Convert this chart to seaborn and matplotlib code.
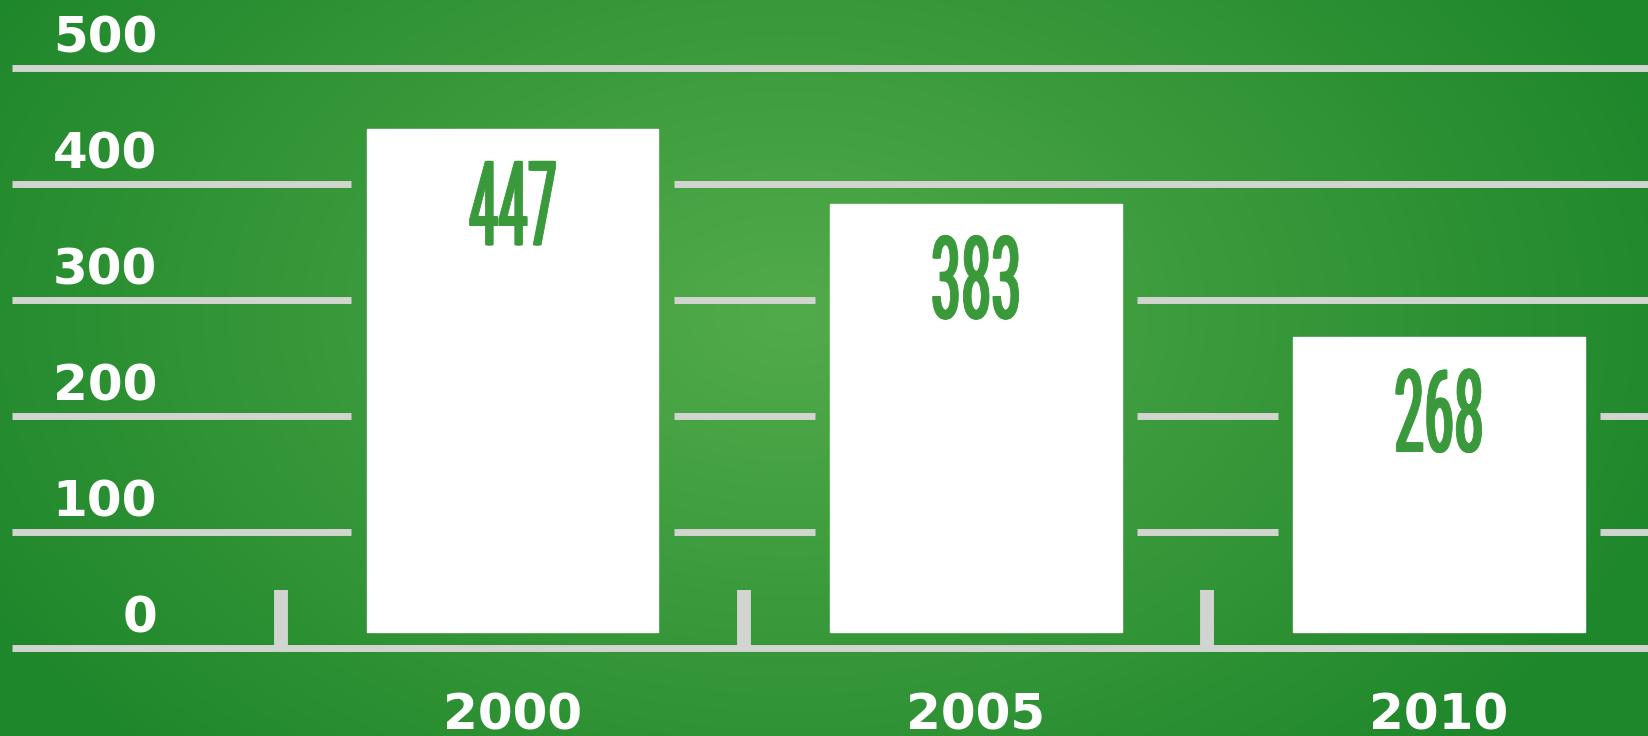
import numpy as np
import pandas as pd
import seaborn as sns
import matplotlib.pyplot as plt
import matplotlib.font_manager as fm
from matplotlib.textpath import TextPath
from matplotlib.patches import PathPatch
from matplotlib.font_manager import FontProperties
from matplotlib.transforms import Affine2D

# data
years = ['2000', '2005', '2010']
values = [447, 383, 268]
y_levels = [0, 100, 200, 300, 400, 500]

sns.set_theme(style='white')
plt.rcParams['font.family'] = ['DejaVu Sans']

GRID = '#d2d4d0'
GREEN_TXT = '#3a9a3b'


def condensed_font():
    # a narrow regular face if one is installed, else plain DejaVu
    files = [f.fname for f in fm.fontManager.ttflist]
    prefs = ['robotocondensed-regular', 'notosans-condensed.ttf',
             'notosans-extracondensed.ttf', 'liberationsansnarrow-regular',
             'dejavusanscondensed.ttf']
    for p in prefs:
        for f in files:
            name = f.lower().replace(' ', '').replace('_', '')
            if name.endswith(p) or ('/' + p) in name:
                return FontProperties(fname=f)
    for f in files:
        name = f.lower()
        if ('condensed' in name or 'narrow' in name) and not any(
                k in name for k in ('bold', 'italic', 'oblique', 'light', 'thin', 'black', 'medium')):
            return FontProperties(fname=f)
    return FontProperties(family='DejaVu Sans', weight='normal')


fig = plt.figure(figsize=(16.48, 7.36), dpi=100)
ax = fig.add_axes([0, 0, 1, 1])

X0, X1 = -1.107, 2.452
Y0, Y1 = -75.9, 558.6
PX_X = 1648 / (X1 - X0)   # pixels per category unit

# radial green background
h, w = 736, 1648
yy, xx = np.mgrid[0:h, 0:w]
r = np.sqrt(((xx - 790) / 920.0) ** 2 + ((yy - 315) / 620.0) ** 2)
r = np.clip(r, 0, 1)
c_in = np.array([0x52, 0xab, 0x4a]) / 255
c_out = np.array([0x1f, 0x87, 0x2b]) / 255
img = c_in + (c_out - c_in) * r[..., None]
ax.imshow(img, extent=[X0, X1, Y0, Y1], aspect='auto', zorder=0, origin='upper')

# bars
df = pd.DataFrame({'year': years, 'value': values})
bar_w = 0.63
sns.barplot(data=df, x='year', y='value', color='white', saturation=1,
            width=bar_w, ax=ax, zorder=3)
lift = 13.8
for p in ax.patches:
    p.set_y(lift)
    p.set_height(p.get_height() - lift)

# gridlines broken around the bars
pad = 0.033
line_start = -1.081
grid_lw = 5.0
for lvl in y_levels[1:]:
    start = line_start
    for i, v in enumerate(values):
        if v > lvl:
            ax.hlines(lvl, start, i - bar_w / 2 - pad, color=GRID, lw=grid_lw, zorder=2, capstyle='butt')
            start = i + bar_w / 2 + pad
    ax.hlines(lvl, start, X1, color=GRID, lw=grid_lw, zorder=2, capstyle='butt')

# baseline and category ticks
ax.hlines(0, line_start, X1, color=GRID, lw=grid_lw, zorder=2, capstyle='butt')
ax.vlines([i - 0.5 for i in range(len(years))], 0, 50, color=GRID, lw=10, zorder=2, capstyle='butt')

# y labels
for lvl in y_levels:
    ax.text(-0.768, lvl + 13, str(lvl), ha='right', va='baseline',
            fontsize=36, fontweight='bold', color='white', zorder=5)

# x labels
for i, yr in enumerate(years):
    ax.text(i, -70, yr, ha='center', va='baseline',
            fontsize=36, fontweight='bold', color='white', zorder=5)

# value labels: squeezed text, smeared sideways a little to thicken the stems
fp = condensed_font()
smear_px = 2.5
lab_w = (86 - smear_px) / PX_X
lab_h, lab_gap = 72.0, 27.5
for i, v in enumerate(values):
    tp = TextPath((0, 0), str(v), size=1, prop=fp)
    ext = tp.get_extents()
    base = (Affine2D().translate(-ext.x0 - ext.width / 2, -ext.y0)
            .scale(lab_w / ext.width, lab_h / ext.height))
    for k in range(4):
        dx = (k / 3 - 0.5) * smear_px / PX_X
        tr = base + Affine2D().translate(i + dx, v - lab_gap - lab_h) + ax.transData
        ax.add_patch(PathPatch(tp, transform=tr, fc=GREEN_TXT, ec=GREEN_TXT,
                               lw=0.6, joinstyle='miter', zorder=4))

ax.set_xlim(X0, X1)
ax.set_ylim(Y0, Y1)
ax.set_axis_off()

fig.savefig('out.png', dpi=100)
